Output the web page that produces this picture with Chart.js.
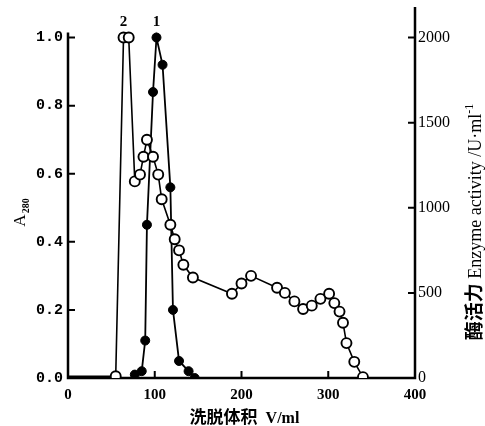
<!DOCTYPE html>
<html>
<head>
<meta charset="utf-8">
<script src="https://cdn.jsdelivr.net/npm/chart.js@4.4.1/dist/chart.umd.min.js"></script>
<style>
  html, body { margin: 0; padding: 0; background: #fff; }
  #wrap { width: 485px; height: 426px; }
</style>
</head>
<body>
<div id="wrap"><canvas id="chart" width="485" height="426"></canvas></div>
<script>
// ===== Data =====
// A280 (filled circles, peak 1)
const a280Volume = [77, 85, 89, 91, 98, 102, 109, 118, 121, 128, 139, 146];
const a280Values = [0.01, 0.02, 0.11, 0.45, 0.84, 1.0, 0.92, 0.56, 0.20, 0.05, 0.02, 0.0];

// enzyme activity U/ml (open circles, peak 2)
const activityVolume = [0, 55, 64, 70, 77, 83, 87, 91, 98, 104, 108, 118, 123, 128, 133, 144,
  189, 200, 211, 241, 250, 261, 271, 281, 291, 301, 307, 313, 317, 321, 330, 340];
const activityValues = [10, 10, 2000, 2000, 1155, 1195, 1300, 1400, 1300, 1195, 1050, 900, 815, 750, 665, 590,
  495, 555, 600, 530, 500, 450, 405, 425, 465, 495, 440, 390, 325, 205, 95, 5];

const xTicks = [0, 100, 200, 300, 400];
const leftTicks = [0, 0.2, 0.4, 0.6, 0.8, 1.0];
const rightTicks = [0, 500, 1000, 1500, 2000];

// peak numbers written above the peaks
const peakNames = ['2', '1'];
const peakVolumes = [64, 102];

const toPoints = (xs, ys) => xs.map((v, i) => ({ x: v, y: ys[i] }));
const setTicks = list => scale => { scale.ticks = list.map(v => ({ value: v })); };

// ===== Axes, tick marks, titles =====
const framePlugin = {
  id: 'frame',
  beforeDatasetsDraw(chart) {
    const { ctx, chartArea: a, scales } = chart;
    ctx.save();
    ctx.strokeStyle = '#000';
    ctx.lineWidth = 2.5;
    ctx.beginPath();
    ctx.moveTo(a.left, scales.y.getPixelForValue(1.0) - 5);
    ctx.lineTo(a.left, a.bottom);
    ctx.lineTo(a.right, a.bottom);
    ctx.lineTo(a.right, a.top);
    ctx.stroke();

    // inward ticks
    ctx.lineWidth = 2;
    ctx.beginPath();
    leftTicks.forEach(v => {
      const p = scales.y.getPixelForValue(v);
      ctx.moveTo(a.left, p); ctx.lineTo(a.left + 7, p);
    });
    rightTicks.forEach(v => {
      const p = scales.y1.getPixelForValue(v);
      ctx.moveTo(a.right, p); ctx.lineTo(a.right - 7, p);
    });
    xTicks.forEach(v => {
      const p = scales.x.getPixelForValue(v);
      ctx.moveTo(p, a.bottom); ctx.lineTo(p, a.bottom - 7);
    });
    ctx.stroke();
    ctx.restore();
  },
  afterDraw(chart) {
    const { ctx, chartArea: a, scales } = chart;
    ctx.save();
    ctx.fillStyle = '#000';
    ctx.textBaseline = 'alphabetic';

    // peak labels
    ctx.font = 'bold 15px "Liberation Serif"';
    ctx.textAlign = 'center';
    peakNames.forEach((n, i) => {
      ctx.fillText(n, scales.x.getPixelForValue(peakVolumes[i]), scales.y.getPixelForValue(1.0) - 12);
    });

    // x title
    ctx.textAlign = 'left';
    const cn = '洗脱体积';
    const en = '  V/ml';
    ctx.font = 'bold 17px "Noto Sans CJK SC"';
    const w1 = ctx.measureText(cn).width;
    ctx.font = 'bold 16px "Liberation Serif"';
    const w2 = ctx.measureText(en).width;
    const sx = (a.left + a.right) / 2 - (w1 + w2) / 2 + 3;
    ctx.font = 'bold 17px "Noto Sans CJK SC"';
    ctx.fillText(cn, sx, 423);
    ctx.font = 'bold 16px "Liberation Serif"';
    ctx.fillText(en, sx + w1, 423);

    // left title A280
    ctx.save();
    ctx.translate(25, 213);
    ctx.rotate(-Math.PI / 2);
    ctx.font = '17px "Liberation Serif"';
    const wa = ctx.measureText('A').width;
    ctx.font = 'bold 10px "Liberation Serif"';
    const ws = ctx.measureText('280').width;
    ctx.font = '17px "Liberation Serif"';
    ctx.fillText('A', -(wa + ws) / 2, 0);
    ctx.font = 'bold 10px "Liberation Serif"';
    ctx.fillText('280', -(wa + ws) / 2 + wa + 1, 4);
    ctx.restore();

    // right title
    ctx.save();
    ctx.translate(481, 222);
    ctx.rotate(-Math.PI / 2);
    const parts = [
      { t: '酶活力', f: 'bold 19px "Noto Sans CJK SC"', dy: 0 },
      { t: ' Enzyme activity /U·ml', f: '18px "Liberation Serif"', dy: 0 },
      { t: '-1', f: '12px "Liberation Serif"', dy: -8 }
    ];
    let total = 0;
    parts.forEach(p => { ctx.font = p.f; p.w = ctx.measureText(p.t).width; total += p.w; });
    let px = -total / 2;
    parts.forEach(p => { ctx.font = p.f; ctx.fillText(p.t, px, p.dy); px += p.w; });
    ctx.restore();

    ctx.restore();
  }
};

const noPadY = s => { s.paddingTop = 0; s.paddingBottom = 0; };

// ===== Chart =====
const ctx = document.getElementById('chart').getContext('2d');
const elutionChart = new Chart(ctx, {
  type: 'line',
  data: {
    datasets: [
      {
        label: 'Enzyme activity',
        data: toPoints(activityVolume, activityValues),
        yAxisID: 'y1',
        borderColor: '#000',
        borderWidth: 1.6,
        backgroundColor: '#fff',
        pointBackgroundColor: '#fff',
        pointBorderColor: '#000',
        pointBorderWidth: 1.9,
        pointRadius: activityVolume.map((v, i) => (i === 0 ? 0 : 5)),
        tension: 0
      },
      {
        label: 'A280',
        data: toPoints(a280Volume, a280Values),
        yAxisID: 'y',
        borderColor: '#000',
        borderWidth: 1.8,
        backgroundColor: '#000',
        pointBackgroundColor: '#000',
        pointBorderColor: '#000',
        pointBorderWidth: 1,
        pointRadius: 4.5,
        tension: 0
      }
    ]
  },
  options: {
    responsive: false,
    animation: false,
    devicePixelRatio: 1,
    layout: { padding: { top: 4, left: 0, right: 0, bottom: 0 } },
    plugins: {
      legend: { display: false },
      tooltip: { enabled: false }
    },
    scales: {
      x: {
        type: 'linear',
        min: 0,
        max: 400,
        grid: { display: false, drawTicks: false },
        border: { display: false },
        afterBuildTicks: setTicks(xTicks),
        afterFit: s => { s.height = 48; s.paddingLeft = 0; s.paddingRight = 0; },
        ticks: {
          padding: 8,
          color: '#000',
          maxRotation: 0,
          autoSkip: false,
          font: { family: 'Liberation Serif', size: 15, weight: 'bold' }
        }
      },
      y: {
        position: 'left',
        min: 0,
        max: 1.09,
        grid: { display: false, drawTicks: false },
        border: { display: false },
        afterBuildTicks: setTicks(leftTicks),
        afterFit: s => { s.width = 68; noPadY(s); },
        ticks: {
          padding: 5,
          color: '#000',
          callback: v => v.toFixed(1),
          font: { family: 'Liberation Mono', size: 15, weight: 'bold' }
        }
      },
      y1: {
        position: 'right',
        min: 0,
        max: 2180,
        grid: { display: false, drawTicks: false },
        border: { display: false },
        afterBuildTicks: setTicks(rightTicks),
        afterFit: s => { s.width = 70; noPadY(s); },
        ticks: {
          padding: 3,
          color: '#000',
          callback: v => String(v),
          font: { family: 'Liberation Serif', size: 16 }
        }
      }
    }
  },
  plugins: [framePlugin]
});
</script>
</body>
</html>
